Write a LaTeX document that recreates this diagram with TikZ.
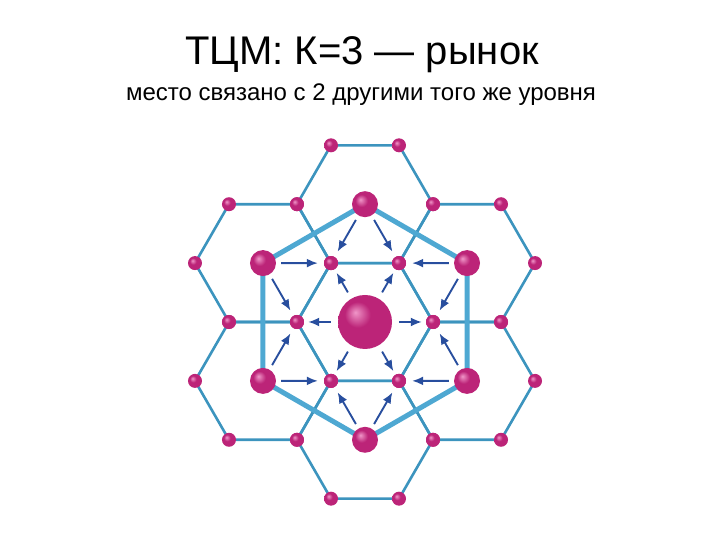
\documentclass[tikz,border=0pt]{standalone}
\usepackage{fontspec}
\setmainfont{Liberation Sans}
\usetikzlibrary{arrows.meta}
\definecolor{hexline}{RGB}{60,148,190}
\definecolor{bondline}{RGB}{78,168,210}
\definecolor{flowarrow}{RGB}{40,78,158}
\definecolor{sitecolor}{RGB}{188,36,120}
\definecolor{sitelight}{RGB}{240,150,200}
\definecolor{sitedark}{RGB}{130,16,78}
\pgfdeclareradialshading{orb}{\pgfqpoint{-9bp}{9bp}}{color(0bp)=(sitelight); color(12bp)=(sitecolor); color(30bp)=(sitecolor); color(42bp)=(sitedark); color(50bp)=(sitedark)}

\begin{document}
\begin{tikzpicture}[x=1pt,y=1pt,
    site/.style={circle,inner sep=0pt,minimum size=14pt,shading=orb},
    market/.style={site,minimum size=26pt},
    town/.style={site,minimum size=54pt},
    lattice/.style={hexline,line width=2.6pt},
    bond/.style={bondline,line width=5pt},
    flow/.style={flowarrow,line width=1.9pt,-{Latex[length=11pt,width=9pt]}}]
    \useasboundingbox (0,0) rectangle (720,540);
    % Titles:
    \node[anchor=base] (title) at (362,475) {\fontsize{40}{48}\selectfont ТЦМ: К=3 — рынок};
    \node[anchor=base] (subtitle) at (361,439) {\fontsize{24}{30}\selectfont место связано с 2 другими того же уровня};
    % Lattice of seven hexagons:
    \begin{scope}[shift={(365,218)}]
      \coordinate (m0) at (0,0);
      \foreach \k in {1,...,6}
        \coordinate (m\k) at (\k*60-30:117.8);
      \foreach \k in {0,...,6}{
        \foreach \j in {0,...,5}
          \path (m\k) ++(\j*60:68) coordinate (h\k-\j);
        \draw[lattice] (h\k-0) -- (h\k-1) -- (h\k-2) -- (h\k-3) -- (h\k-4) -- (h\k-5) -- cycle;
      }
      % Market links:
      \draw[bond] (m1) -- (m2) -- (m3) -- (m4) -- (m5) -- (m6) -- cycle;
      % Places:
      \foreach \k in {0,...,6}
        \foreach \j in {0,...,5}
          \node[site] (d\k-\j) at (h\k-\j) {};
      \foreach \k in {1,...,6}
        \node[market] (s\k) at (m\k) {};
      \node[town] (core) at (m0) {};
      % Flows:
      \foreach \j in {0,...,5}
        \draw[flow,shorten <=7pt,shorten >=4pt] (core) -- (d0-\j);
      \foreach \k in {1,...,6}{
        \pgfmathtruncatemacro\prv{\k-1}
        \pgfmathtruncatemacro\nxt{mod(\k,6)}
        \draw[flow,shorten <=5pt,shorten >=6pt] (s\k) -- (d0-\prv);
        \draw[flow,shorten <=5pt,shorten >=6pt] (s\k) -- (d0-\nxt);
      }
    \end{scope}
\end{tikzpicture}
\end{document}
